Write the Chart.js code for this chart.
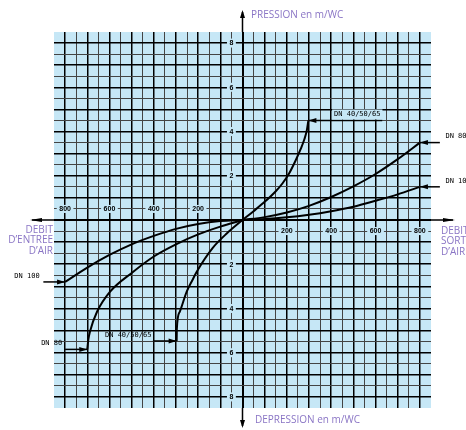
<!DOCTYPE html>
<html>
<head>
<meta charset="utf-8">
<script src="https://cdn.jsdelivr.net/npm/chart.js@4.4.1/dist/chart.umd.min.js"></script>
<style>
  body { margin: 0; background: #fff; }
  #wrap { width: 466px; height: 430px; }
</style>
</head>
<body>
<div id="wrap"><canvas id="abaque" width="466" height="430"></canvas></div>
<script>
// flow (m3/h) vs pressure (m/WC)
let dn40Pos = [[0, 0], [50, 0.4], [100, 0.82], [150, 1.3], [180, 1.65], [210, 2.1], [240, 2.7], [262, 3.2], [279, 3.65], [290, 4.05], [297, 4.5]];
let dn80Pos = [[0, 0], [100, 0.13], [200, 0.34], [300, 0.64], [400, 1.04], [500, 1.52], [600, 2.08], [700, 2.75], [800, 3.5]];
let dn100Pos = [[0, 0], [100, 0.04], [200, 0.12], [300, 0.24], [400, 0.4], [500, 0.6], [600, 0.87], [700, 1.16], [800, 1.5]];
let dn100Neg = [[-800, -2.8], [-700, -2.15], [-600, -1.58], [-500, -1.1], [-400, -0.72], [-300, -0.4], [-200, -0.18], [-100, -0.05], [0, 0]];
let dn80Neg = [[-700, -5.85], [-695, -5.4], [-688, -5.05], [-656, -4.15], [-598, -3.25], [-494, -2.35], [-400, -1.65], [-300, -1.1], [-200, -0.65], [-100, -0.3], [0, 0]];
let dn40Neg = [[-297, -5.47], [-296, -4.9], [-283, -4.15], [-252, -3.25], [-225, -2.7], [-207, -2.35], [-135, -1.27], [-70, -0.6], [0, 0]];

let curveNames = ["DN 40/50/65", "DN 80", "DN 100", "DN 100", "DN 80", "DN 40/50/65"];
let xTickLabels = [-800, -600, -400, -200, 200, 400, 600, 800];
let yTickLabels = [-8, -6, -4, -2, 2, 4, 6, 8];

// where each leader line ends and where its label sits (data x units)
let leaderTo = [630, 890, 890, -898, -800, -404];
let labelAt = [413, 915, 915, -1029, -908, -620];

let curves = [dn40Pos, dn80Pos, dn100Pos, dn100Neg, dn80Neg, dn40Neg];
let curveEnds = [dn40Pos[dn40Pos.length - 1], dn80Pos[dn80Pos.length - 1], dn100Pos[dn100Pos.length - 1], dn100Neg[0], dn80Neg[0], dn40Neg[0]];

const BLUE = "#c6e7f6";
const PURPLE = "#8a75c5";

let datasets = [];
curves.forEach((c, i) => {
    datasets.push({
        label: curveNames[i],
        data: c.map(p => ({ x: p[0], y: p[1] })),
        borderColor: "#000",
        borderWidth: 2,
        pointRadius: 0,
        cubicInterpolationMode: "monotone"
    });
});
// leader lines from the curve end to the label
curveEnds.forEach((p, i) => {
    datasets.push({
        label: "leader" + i,
        data: [{ x: p[0], y: p[1] }, { x: leaderTo[i], y: p[1] }],
        borderColor: "#000",
        borderWidth: 1.5,
        pointRadius: 0,
        clip: false
    });
});

function arrowHead(ctx, x, y, dx, dy, len, half) {
    // tip at (x,y), pointing along (dx,dy)
    let bx = x - dx * len, by = y - dy * len;
    ctx.beginPath();
    ctx.moveTo(x, y);
    ctx.lineTo(bx - dy * half, by + dx * half);
    ctx.lineTo(bx + dy * half, by - dx * half);
    ctx.closePath();
    ctx.fill();
}

let abaquePlugin = {
    id: "abaque",
    beforeDraw(chart) {
        let a = chart.chartArea, ctx = chart.ctx;
        ctx.save();
        ctx.fillStyle = BLUE;
        ctx.fillRect(a.left, a.top, a.right - a.left, a.bottom - a.top);
        ctx.restore();
    },
    afterDatasetsDraw(chart) {
        let ctx = chart.ctx, xs = chart.scales.x, ys = chart.scales.y, a = chart.chartArea;
        ctx.save();
        ctx.fillStyle = "#000";

        // arrowheads at curve ends + curve labels
        ctx.font = "7px 'DejaVu Sans Mono'";
        ctx.textBaseline = "middle";
        curveEnds.forEach((p, i) => {
            let px = xs.getPixelForValue(p[0]), py = ys.getPixelForValue(p[1]);
            let dir = leaderTo[i] > p[0] ? -1 : 1;
            arrowHead(ctx, px, py, dir, 0, 8, 2.5);
            let tx = xs.getPixelForValue(labelAt[i]);
            let w = ctx.measureText(curveNames[i]).width;
            if (i === 0) {
                ctx.fillStyle = BLUE;
                ctx.fillRect(tx - 2, py - 11, w + 4, 10);
                ctx.fillStyle = "#000";
            }
            ctx.fillText(curveNames[i], tx, py - 6);
        });

        // tick labels sitting on the grid lines next to the axes
        ctx.font = "bold 7px 'Liberation Sans'";
        ctx.textAlign = "center";
        xTickLabels.forEach(v => {
            let px = xs.getPixelForValue(v);
            let py = ys.getPixelForValue(v < 0 ? 0.5 : -0.5);
            let t = String(Math.abs(v)), w = ctx.measureText(t).width;
            ctx.fillStyle = BLUE;
            ctx.fillRect(px - w / 2 - 2.5, py - 4, w + 5, 8);
            ctx.fillStyle = "#000";
            ctx.fillText(t, px, py + 0.5);
        });
        yTickLabels.forEach(v => {
            let px = xs.getPixelForValue(-50);
            let py = ys.getPixelForValue(v);
            let t = String(Math.abs(v)), w = ctx.measureText(t).width;
            ctx.fillStyle = BLUE;
            ctx.fillRect(px - w / 2 - 2.5, py - 4.5, w + 5, 9);
            ctx.fillStyle = "#000";
            ctx.fillText(t, px, py + 0.5);
        });

        // axis arrows
        let x0 = xs.getPixelForValue(0), y0 = ys.getPixelForValue(0);
        ctx.strokeStyle = "#000";
        ctx.lineWidth = 1.5;
        ctx.beginPath();
        ctx.moveTo(x0, a.top); ctx.lineTo(x0, 12);
        ctx.moveTo(x0, a.bottom); ctx.lineTo(x0, 426);
        ctx.moveTo(a.left, y0); ctx.lineTo(32, y0);
        ctx.moveTo(a.right, y0); ctx.lineTo(453, y0);
        ctx.stroke();
        arrowHead(ctx, x0, 10, 0, -1, 8, 2.5);
        arrowHead(ctx, x0, 428, 0, 1, 8, 2.5);
        arrowHead(ctx, 30, y0, -1, 0, 12, 2);
        arrowHead(ctx, 455, y0, 1, 0, 12, 2);

        // axis titles
        ctx.fillStyle = PURPLE;
        ctx.font = "10px 'Open Sans'";
        ctx.textAlign = "left";
        ctx.fillText("PRESSION en m/WC", 251, 15);
        ctx.fillText("DEPRESSION en m/WC", 255, 420);
        ["DEBIT", "SORTIE", "D\u2019AIR"].forEach((t, i) => ctx.fillText(t, 441, 231 + i * 10.5));
        ctx.textAlign = "right";
        ["DEBIT", "D\u2019ENTREE", "D\u2019AIR"].forEach((t, i) => ctx.fillText(t, 53, 230 + i * 10.5));
        ctx.restore();
    }
};

let ctx = document.getElementById("abaque").getContext("2d");
new Chart(ctx, {
    type: "line",
    data: { datasets: datasets },
    options: {
        responsive: false,
        animation: false,
        events: [],
        layout: { padding: { left: 54, right: 35, top: 32, bottom: 22 } },
        scales: {
            x: {
                type: "linear",
                min: -850,
                max: 850,
                ticks: { display: false, stepSize: 50, autoSkip: false },
                border: { display: false },
                grid: {
                    drawTicks: false,
                    color: c => Math.abs(c.tick.value) > 800 ? "rgba(0,0,0,0)" : (c.tick.value % 100 === 0 ? "#000" : "#444"),
                    lineWidth: c => c.tick.value === 0 ? 2 : (c.tick.value % 100 === 0 ? 1.5 : 1)
                }
            },
            y: {
                type: "linear",
                min: -8.5,
                max: 8.5,
                ticks: { display: false, stepSize: 0.5, autoSkip: false },
                border: { display: false },
                grid: {
                    drawTicks: false,
                    color: c => Math.abs(c.tick.value) > 8 ? "rgba(0,0,0,0)" : (Number.isInteger(c.tick.value) ? "#000" : "#444"),
                    lineWidth: c => c.tick.value === 0 ? 2 : (Number.isInteger(c.tick.value) ? 1.5 : 1)
                }
            }
        },
        plugins: {
            legend: { display: false },
            tooltip: { enabled: false }
        }
    },
    plugins: [abaquePlugin]
});
</script>
</body>
</html>
